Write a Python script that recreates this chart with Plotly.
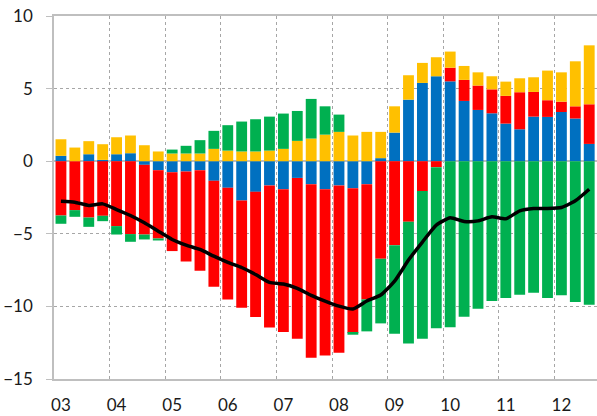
import plotly.graph_objects as go

years = ["03", "04", "05", "06", "07", "08", "09", "10", "11", "12"]
n_quarters = 39

blue = [0.37, 0, 0.48, 0.09, 0.48, 0.55, -0.25, -0.62, -0.76, -0.71,
        -0.62, -1.35, -1.83, -2.71, -2.11, -1.67, -1.93, -1.15, -1.58, -1.93,
        -1.67, -1.86, -1.58, 0.21, 1.97, 4.24, 5.39, 5.85, 5.5, 4.15,
        3.53, 3.3, 2.59, 2.2, 3.07, 3.05, 3.39, 2.94, 1.19]
red = [-3.74, -3.37, -3.88, -3.76, -4.47, -5.02, -4.8, -4.7, -5.43, -6.19,
       -6.93, -7.3, -7.69, -7.38, -8.62, -9.78, -9.84, -11.07, -11.95, -11.46,
       -11.52, -9.97, -7.94, -6.72, -5.78, -4.17, -2.06, -0.41, 0.94, 1.45,
       1.68, 1.65, 1.91, 2.55, 1.7, 1.15, 0.71, 0.84, 2.73]
yellow = [1.14, 0.94, 0.9, 1.08, 1.17, 1.22, 1.1, 0.67, 0.53, 0.53,
          0.53, 0.85, 0.73, 0.67, 0.67, 0.73, 0.85, 1.4, 1.56, 1.83,
          2.02, 1.77, 2.02, 1.81, 1.81, 1.68, 1.38, 1.31, 1.11, 0.96,
          0.91, 0.9, 0.98, 0.96, 1.01, 2.04, 2.02, 3.1, 4.06]
green_pos = [0, 0, 0, 0, 0, 0, 0, 0, 0.27, 0.53,
             0.92, 1.24, 1.75, 2.06, 2.22, 2.34, 2.43, 2.06, 2.73, 1.95,
             1.19, 0, 0, 0, 0, 0, 0, 0, 0, 0,
             0, 0, 0, 0, 0, 0, 0, 0, 0]
green_neg = [-0.57, -0.46, -0.64, -0.37, -0.58, -0.53, -0.34, -0.14, 0, 0,
             0, 0, 0, 0, 0, 0, 0, 0, 0, 0,
             0, -0.12, -2.2, -4.45, -6.1, -8.38, -10.16, -11.1, -11.44, -10.71,
             -10.16, -9.63, -9.43, -9.2, -9.06, -9.43, -9.24, -9.7, -9.89]
total = [-2.75, -2.82, -3.05, -2.94, -3.33, -3.74, -4.24, -4.82, -5.39, -5.78,
         -6.08, -6.54, -6.97, -7.32, -7.8, -8.35, -8.46, -8.76, -9.24, -9.63,
         -9.98, -10.18, -9.63, -9.22, -8.26, -6.81, -5.57, -4.4, -3.9, -4.15,
         -4.11, -3.83, -3.97, -3.42, -3.26, -3.26, -3.19, -2.73, -1.93]

green = [p + q for p, q in zip(green_pos, green_neg)]
x = list(range(n_quarters))

C_BLUE = "#0070C0"
C_RED = "#FF0000"
C_YELLOW = "#FFC000"
C_GREEN = "#00B050"

fig = go.Figure()
for vals, col in [(blue, C_BLUE), (red, C_RED), (yellow, C_YELLOW), (green, C_GREEN)]:
    fig.add_trace(go.Bar(x=x, y=vals, marker=dict(color=col, line=dict(width=0)),
                         showlegend=False))
fig.add_trace(go.Scatter(x=x, y=total, mode="lines",
                         line=dict(color="black", width=3.5, shape="spline", smoothing=0.5),
                         showlegend=False))

year_ticks = [i * 4 for i in range(len(years))]
year_bounds = [i * 4 - 0.5 for i in range(1, len(years))]

fig.update_layout(
    width=597, height=416,
    barmode="relative", bargap=0.22,
    plot_bgcolor="white", paper_bgcolor="white",
    margin=dict(l=54, r=0, t=16, b=37, autoexpand=False),
    font=dict(family="Lato", size=17, color="#1a1a1a"),
    xaxis=dict(
        range=[-0.5, 38.56], automargin=False,
        tickmode="array", tickvals=year_ticks, ticktext=years,
        showgrid=False, ticks="", ticklabelstandoff=10,
        showline=True, linecolor="#BFBFBF", linewidth=1.5, mirror=True,
        zeroline=False,
        minor=dict(tickmode="array", tickvals=year_bounds, showgrid=True,
                   gridcolor="#A6A6A6", griddash="dot", gridwidth=1, ticks=""),
    ),
    yaxis=dict(
        range=[-15, 10], automargin=False,
        tickmode="array", tickvals=[-15, -10, -5, 0, 5, 10],
        showgrid=True, gridcolor="#A6A6A6", griddash="dot", gridwidth=1,
        zeroline=True, zerolinecolor="#BFBFBF", zerolinewidth=1.5,
        showline=True, linecolor="#BFBFBF", linewidth=1.5,
        ticks="outside", ticklen=6, tickcolor="#BFBFBF", ticklabelstandoff=10,
    ),
)

fig.write_html("out.html", config={"displayModeBar": False})

with open("out.html", "r", encoding="utf-8") as f:
    html = f.read()
html = html.replace("<head>", "<head><style>html,body{margin:0;padding:0;overflow:hidden;}</style>", 1)
with open("out.html", "w", encoding="utf-8") as f:
    f.write(html)
